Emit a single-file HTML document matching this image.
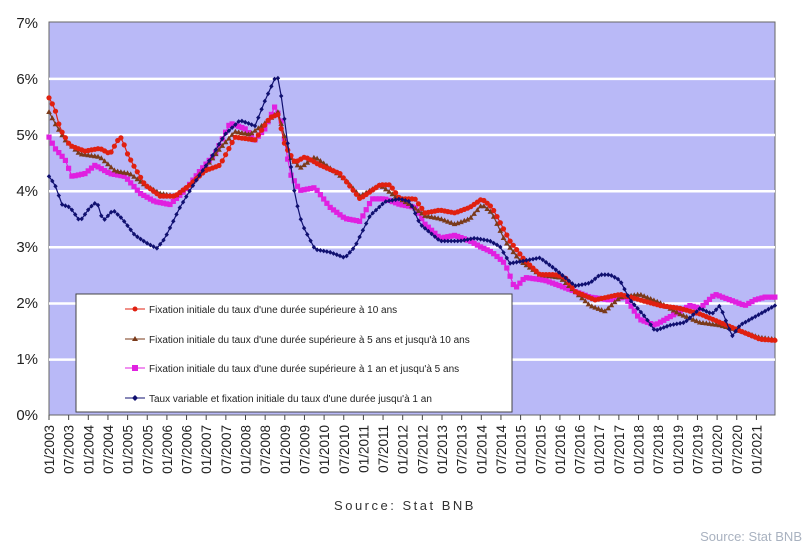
<!DOCTYPE html>
<html><head><meta charset="utf-8"><style>
html,body{margin:0;padding:0;background:#fff;}
svg{display:block;}
</style></head><body>
<svg id="s" width="811" height="559" xmlns="http://www.w3.org/2000/svg" font-family="Liberation Sans, sans-serif">
<rect x="49" y="22" width="726" height="393" fill="#b9b9f7" stroke="#666" stroke-width="1"/>
<g stroke="#fff" stroke-width="2.5">
<line x1="49" x2="775" y1="78.9" y2="78.9"/><line x1="49" x2="775" y1="135" y2="135"/>
<line x1="49" x2="775" y1="191.2" y2="191.2"/><line x1="49" x2="775" y1="247.3" y2="247.3"/>
<line x1="49" x2="775" y1="303.5" y2="303.5"/><line x1="49" x2="775" y1="359.6" y2="359.6"/>
</g>
<g font-size="15" fill="#222" text-anchor="end">
<text x="38" y="28">7%</text><text x="38" y="84">6%</text><text x="38" y="140">5%</text>
<text x="38" y="196">4%</text><text x="38" y="252">3%</text><text x="38" y="308">2%</text>
<text x="38" y="364">1%</text><text x="38" y="420">0%</text>
</g>
<g id="series"></g>
<g id="xt"></g>
<rect x="76" y="294" width="436" height="118" fill="#fff" stroke="#444" stroke-width="1"/>
<g font-size="10" fill="#222">
<line x1="125" x2="145" y1="309" y2="309" stroke="#e02010"/><circle cx="135" cy="309" r="2.5" fill="#e02010"/>
<text x="149" y="313">Fixation initiale du taux d'une durée supérieure à 10 ans</text>
<line x1="125" x2="145" y1="339" y2="339" stroke="#7a3a1a"/><path d="M135 336l3 5h-6z" fill="#7a3a1a"/>
<text x="149" y="343">Fixation initiale du taux d'une durée supérieure à 5 ans et  jusqu'à 10 ans</text>
<line x1="125" x2="145" y1="368" y2="368" stroke="#e020e0"/><rect x="132" y="365" width="6" height="6" fill="#e020e0"/>
<text x="149" y="372">Fixation initiale du taux d'une durée supérieure à 1 an et  jusqu'à 5 ans</text>
<line x1="125" x2="145" y1="398" y2="398" stroke="#101070"/><path d="M135 395l3 3-3 3-3-3z" fill="#101070"/>
<text x="149" y="402">Taux variable et fixation initiale du taux d'une durée jusqu'à 1 an</text>
</g>
<text x="405" y="510" font-size="13" fill="#333" text-anchor="middle" letter-spacing="2.5">Source: Stat BNB</text>
<text x="802" y="541" font-size="13" fill="#a9b2c0" text-anchor="end">Source: Stat BNB</text>
</svg>
<script>
var Y=function(v){return 415-v*56.14;};
var red=[[49,5.65],[55,5.45],[60,5.1],[70,4.8],[85,4.7],[100,4.75],[110,4.65],[118,4.9],[122,4.95],[126,4.7],[135,4.4],[145,4.1],[160,3.9],[175,3.9],[190,4.1],[205,4.35],[220,4.45],[235,4.95],[255,4.9],[270,5.3],[278,5.35],[285,4.8],[295,4.5],[305,4.6],[320,4.45],[340,4.3],[360,3.85],[380,4.1],[390,4.1],[400,3.85],[415,3.85],[425,3.6],[440,3.65],[455,3.6],[470,3.7],[482,3.85],[492,3.7],[510,3.1],[525,2.75],[540,2.5],[555,2.5],[565,2.45],[575,2.2],[595,2.05],[620,2.15],[640,2.05],[660,1.95],[680,1.9],[700,1.8],[720,1.65],[740,1.5],[760,1.35],[775,1.33]];
var brown=[[49,5.4],[55,5.2],[65,4.9],[80,4.65],[100,4.6],[115,4.35],[130,4.3],[145,4.1],[160,3.95],[175,3.9],[190,4.1],[205,4.4],[220,4.75],[235,5.05],[250,5.0],[265,5.2],[278,5.4],[290,4.6],[300,4.4],[315,4.6],[330,4.4],[345,4.2],[360,3.9],[380,4.1],[395,3.9],[410,3.75],[425,3.55],[440,3.5],[455,3.4],[470,3.5],[482,3.75],[492,3.6],[505,3.1],[520,2.75],[540,2.5],[560,2.45],[575,2.2],[590,1.95],[605,1.85],[620,2.1],[640,2.15],[660,2.0],[680,1.8],[700,1.65],[720,1.6],[740,1.5],[760,1.38],[775,1.35]];
var mag=[[49,4.95],[55,4.75],[65,4.55],[72,4.25],[85,4.3],[95,4.45],[110,4.3],[125,4.25],[140,3.95],[155,3.8],[170,3.75],[185,4.0],[200,4.35],[215,4.65],[230,5.2],[245,5.1],[255,4.9],[265,5.1],[275,5.5],[282,5.2],[290,4.3],[300,4.0],[315,4.05],[330,3.7],[345,3.5],[360,3.45],[372,3.85],[385,3.85],[400,3.75],[415,3.7],[425,3.4],[440,3.15],[455,3.2],[470,3.1],[480,3.0],[492,2.9],[505,2.7],[515,2.25],[525,2.45],[545,2.4],[560,2.3],[575,2.2],[590,2.1],[610,2.05],[625,2.1],[640,1.7],[655,1.6],[670,1.75],[690,1.95],[700,1.9],[715,2.15],[730,2.05],[745,1.95],[755,2.05],[765,2.1],[775,2.1]];
var blue=[[49,4.25],[55,4.1],[62,3.75],[70,3.7],[80,3.45],[90,3.7],[97,3.8],[103,3.45],[113,3.65],[122,3.5],[135,3.2],[148,3.05],[157,2.97],[165,3.15],[180,3.7],[195,4.15],[210,4.55],[225,5.0],[240,5.25],[255,5.15],[265,5.6],[275,6.0],[278,6.0],[282,5.6],[288,4.8],[295,3.9],[302,3.4],[315,2.95],[330,2.9],[345,2.8],[355,3.0],[370,3.55],[385,3.8],[400,3.85],[410,3.8],[420,3.4],[440,3.1],[460,3.1],[475,3.15],[490,3.1],[500,3.0],[510,2.7],[525,2.75],[540,2.8],[555,2.6],[565,2.45],[575,2.3],[590,2.35],[600,2.5],[610,2.5],[620,2.4],[630,2.05],[645,1.75],[655,1.5],[670,1.6],[685,1.65],[700,1.9],[712,1.8],[720,1.95],[732,1.4],[740,1.6],[755,1.75],[765,1.85],[775,1.95]];
function interp(p,x){for(var i=0;i<p.length-1;i++){if(x>=p[i][0]&&x<=p[i+1][0]){var t=(x-p[i][0])/(p[i+1][0]-p[i][0]);return p[i][1]+t*(p[i+1][1]-p[i][1]);}}return p[p.length-1][1];}
var out='';
function draw(p,col,mk){var pts=[];for(var x=49;x<=775;x+=3.27){pts.push([x,Y(interp(p,x))]);}
out+='<polyline fill="none" stroke="'+col+'" stroke-width="1.2" points="'+pts.map(function(q){return q[0].toFixed(1)+','+q[1].toFixed(1)}).join(' ')+'"/>';
pts.forEach(function(q){var x=q[0],y=q[1];
if(mk=='c')out+='<circle cx="'+x.toFixed(1)+'" cy="'+y.toFixed(1)+'" r="2.6" fill="'+col+'"/>';
else if(mk=='t')out+='<path d="M'+x.toFixed(1)+' '+(y-2.8).toFixed(1)+'l2.8 5h-5.6z" fill="'+col+'"/>';
else if(mk=='s')out+='<rect x="'+(x-2.6).toFixed(1)+'" y="'+(y-2.6).toFixed(1)+'" width="5.2" height="5.2" fill="'+col+'"/>';
else out+='<path d="M'+x.toFixed(1)+' '+(y-2.4).toFixed(1)+'l2.2 2.4-2.2 2.4-2.2-2.4z" fill="'+col+'"/>';});}
draw(mag,'#e020e0','s');draw(brown,'#7a3a1a','t');draw(red,'#e02010','c');draw(blue,'#101070','d');
document.getElementById('series').innerHTML=out;
var xt='';for(var i=0;i<=36;i++){var x=49+i*19.65;xt+='<line x1="'+x+'" x2="'+x+'" y1="415" y2="420" stroke="#444"/>';
var yr=2003+Math.floor(i/2),m=i%2?'07':'01';
xt+='<text transform="translate('+(x+5)+',425) rotate(-90)" font-size="13.5" fill="#222" text-anchor="end">'+m+'/'+yr+'</text>';}
document.getElementById('xt').innerHTML=xt;
</script>
</body></html>
